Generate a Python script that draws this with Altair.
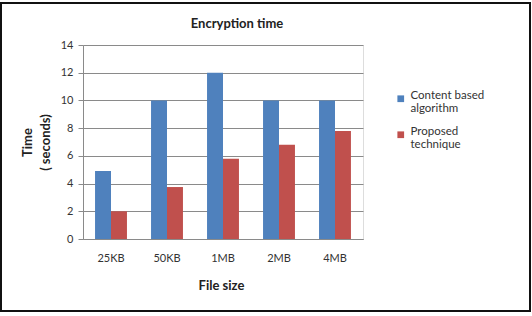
import altair as alt
import pandas as pd

categories = ["25KB", "50KB", "1MB", "2MB", "4MB"]
content_based = [4.9, 10, 12, 10, 10]
proposed = [2.0, 3.75, 5.8, 6.8, 7.8]
series = ["Content based algorithm", "Proposed technique"]

rows = []
for c, a, b in zip(categories, content_based, proposed):
    rows.append({"size": c, "series": series[0], "time": a})
    rows.append({"size": c, "series": series[1], "time": b})
df = pd.DataFrame(rows)

FONT = "Lato"

bars = alt.Chart(df).mark_bar().encode(
    x=alt.X("size:N", sort=categories,
            scale=alt.Scale(paddingInner=0.43, paddingOuter=0.215),
            axis=alt.Axis(title="File size", labelAngle=0, ticks=False,
                          labelPadding=13, titlePadding=16,
                          labelFont=FONT, labelFontSize=11, labelColor="#333333",
                          titleFont=FONT, titleFontSize=13, titleFontWeight="bold",
                          titleColor="#222222", domainColor="#8a8a8a", titleX=138)),
    xOffset=alt.XOffset("series:N", sort=series),
    y=alt.Y("time:Q", scale=alt.Scale(domain=[0, 14]),
            axis=alt.Axis(title=["Time", "( seconds)"], values=list(range(0, 15, 2)),
                          tickSize=5, tickColor="#8a8a8a", labelPadding=5,
                          gridColor="#8a8a8a", domainColor="#8a8a8a",
                          labelFont=FONT, labelFontSize=11, labelColor="#333333",
                          titleFont=FONT, titleFontSize=13, titleFontWeight="bold",
                          titleColor="#222222", titlePadding=8, titleLineHeight=18)),
    color=alt.Color("series:N", sort=series,
                    scale=alt.Scale(domain=series, range=["#4F81BD", "#C0504D"]),
                    legend=alt.Legend(title=None, orient="none", legendX=312, legendY=48,
                                      labelExpr="[slice(datum.label, 0, lastindexof(datum.label, ' ')), slice(datum.label, lastindexof(datum.label, ' ') + 1)]",
                                      symbolType="square", symbolSize=45,
                                      symbolStrokeWidth=0,
                                      labelFont=FONT, labelFontSize=11.5, labelColor="#333333",
                                      labelBaseline="alphabetic", rowPadding=10, labelOffset=4)),
)

frame = alt.Chart(pd.DataFrame({"k": [0]})).mark_rect(
    fill=None, stroke="#111111", strokeWidth=2
).encode(x=alt.value(-82), x2=alt.value(447), y=alt.value(-42), y2=alt.value(266))

chart = alt.layer(bars, frame).properties(
    width=280, height=194,
    autosize=alt.AutoSizeParams(type="none"),
    padding={"left": 83, "top": 45, "right": 169, "bottom": 77},
    title=alt.Title("Encryption time", font=FONT, fontSize=13, fontWeight="bold",
                    color="#222222", dx=14, offset=0, dy=29, frame="group"),
).configure_view(stroke=None).configure(background="white")

chart.save("out.html", embed_options={"renderer": "svg", "actions": False})
